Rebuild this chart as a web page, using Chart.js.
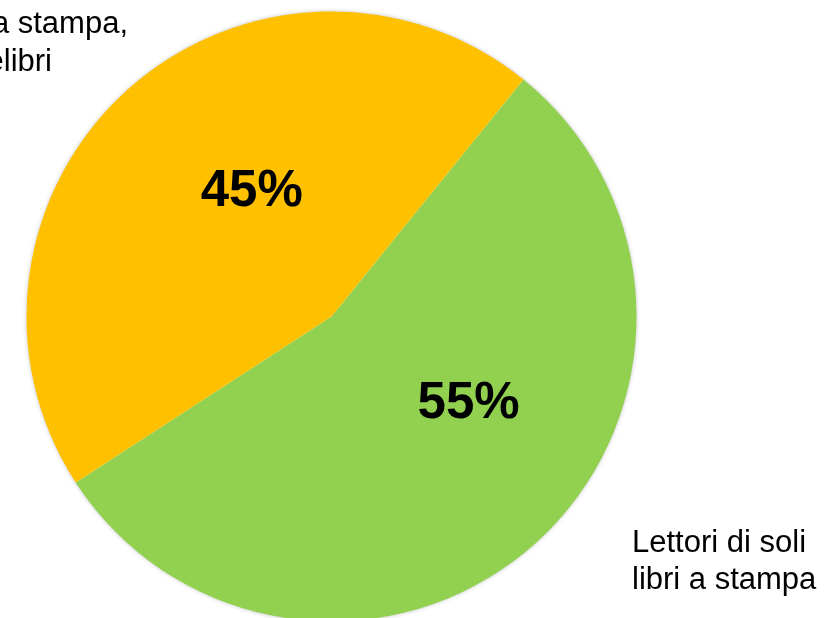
<!DOCTYPE html>
<html>
<head>
<meta charset="utf-8">
<script src="https://cdn.jsdelivr.net/npm/chart.js@4.4.0/dist/chart.umd.min.js"></script>
<style>
  html, body { margin: 0; padding: 0; background: #fff; overflow: hidden; }
  #wrap { position: relative; width: 826px; height: 622px; }
</style>
</head>
<body>
<div id="wrap"><canvas id="pieChart" width="826" height="622"></canvas></div>
<script>
// data
var categories = ['Lettori di soli libri a stampa', 'Lettori di e-book e di libri a stampa'];
var shares = [55, 45];
var sliceColors = ['#92D050', '#FFC000'];

// category label text, split in lines as on the slide
var outerLabels = [
    ['Lettori di soli', 'libri a stampa'],
    ['Lettori di e-book e di libri a stampa,', 'e-book e/o elibri']
];

var pieShadow = {
    id: 'pieShadow',
    beforeDatasetsDraw: function(chart) {
        var arc = chart.getDatasetMeta(0).data[0];
        if (!arc) return;
        var ctx = chart.ctx;
        ctx.save();
        ctx.shadowColor = 'rgba(0,0,0,0.35)';
        ctx.shadowBlur = 5;
        ctx.shadowOffsetX = 0;
        ctx.shadowOffsetY = 0;
        ctx.fillStyle = '#ffffff';
        ctx.beginPath();
        ctx.arc(arc.x, arc.y, arc.outerRadius - 1, 0, Math.PI * 2);
        ctx.fill();
        ctx.restore();
    }
};

var pieLabels = {
    id: 'pieLabels',
    afterDatasetsDraw: function(chart) {
        var ctx = chart.ctx;
        var meta = chart.getDatasetMeta(0);
        // percent labels sit a bit off the slice middle, like the slide
        var shift = [-0.28, 0.17];
        var dist = [0.53, 0.49];
        ctx.save();
        ctx.fillStyle = '#000';
        ctx.textAlign = 'center';
        ctx.textBaseline = 'middle';
        ctx.font = 'bold 51px "Liberation Sans", Arial, sans-serif';
        meta.data.forEach(function(arc, i) {
            var mid = (arc.startAngle + arc.endAngle) / 2 + shift[i];
            var r = arc.outerRadius * dist[i];
            var x = arc.x + Math.cos(mid) * r;
            var y = arc.y + Math.sin(mid) * r;
            ctx.fillText(shares[i] + '%', x, y + 2);
        });

        ctx.font = '31px "Liberation Sans", Arial, sans-serif';
        ctx.textBaseline = 'alphabetic';
        // green slice label: bottom right, left aligned
        ctx.textAlign = 'left';
        ctx.fillText(outerLabels[0][0], 632, 552);
        ctx.fillText(outerLabels[0][1], 632, 589);
        // orange slice label: top left, cut by the page edge
        ctx.textAlign = 'right';
        ctx.fillText(outerLabels[1][0], 128, 33);
        ctx.fillText(outerLabels[1][1], 52, 71);
        ctx.restore();
    }
};

var ctx = document.getElementById('pieChart').getContext('2d');
var pieChart = new Chart(ctx, {
    type: 'pie',
    data: {
        labels: categories,
        datasets: [{
            data: shares,
            backgroundColor: sliceColors,
            borderWidth: 0
        }]
    },
    options: {
        responsive: false,
        animation: false,
        rotation: 39,
        radius: 305,
        layout: {
            padding: { left: 26, right: 189, top: 11, bottom: 0 }
        },
        plugins: {
            legend: { display: false },
            tooltip: { enabled: false }
        }
    },
    plugins: [pieShadow, pieLabels]
});
</script>
</body>
</html>
